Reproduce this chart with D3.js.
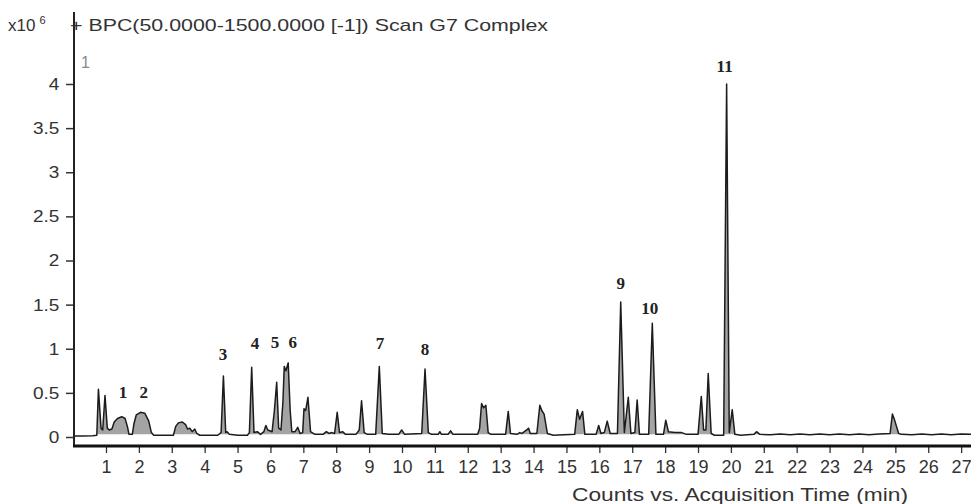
<!DOCTYPE html>
<html><head><meta charset="utf-8">
<script src="https://cdn.jsdelivr.net/npm/d3@7"></script>
<style>body{margin:0;background:#fff}svg{display:block}</style>
</head><body>
<svg id="c" width="971" height="504"></svg>
<script>
// Retention time (min) and BPC intensity (x10^6 counts)
const times = [0,0.3,0.6,0.72,0.77,0.85,0.9,0.97,1.04,1.1,1.18,1.25,1.35,1.48,1.58,1.65,1.7,1.8,1.85,1.92,2.05,2.18,2.3,2.38,2.45,2.8,3.05,3.12,3.2,3.32,3.42,3.48,3.55,3.62,3.7,3.76,3.85,4.4,4.5,4.57,4.64,4.68,4.75,5.0,5.3,5.36,5.43,5.5,5.6,5.7,5.8,5.86,5.92,6.05,6.12,6.19,6.25,6.32,6.38,6.42,6.47,6.54,6.6,6.65,6.75,6.83,6.9,6.98,7.02,7.07,7.14,7.22,7.35,7.6,7.7,7.78,7.87,7.95,8.03,8.1,8.2,8.28,8.6,8.7,8.77,8.85,8.95,9.2,9.31,9.4,9.6,9.9,9.99,10.08,10.6,10.7,10.8,10.9,11.1,11.15,11.2,11.4,11.48,11.55,12.3,12.36,12.42,12.48,12.55,12.62,12.7,13.15,13.23,13.3,13.5,13.58,13.65,13.79,13.85,13.9,14.1,14.19,14.25,14.32,14.42,14.6,15.25,15.33,15.4,15.49,15.56,15.9,15.98,16.05,16.15,16.24,16.33,16.55,16.65,16.76,16.88,16.96,17.08,17.15,17.22,17.5,17.61,17.72,17.95,18.02,18.1,18.3,18.5,18.65,19.0,19.1,19.17,19.24,19.31,19.4,19.5,19.78,19.87,19.95,20.04,20.12,20.3,20.7,20.78,20.88,21.2,21.5,21.8,22.1,22.4,22.7,23.0,23.3,23.6,23.9,24.2,24.5,24.84,24.91,24.97,25.1,25.2,25.5,25.8,26.1,26.4,26.7,27.0,27.3];
const intensity = [0.01,0.01,0.015,0.02,0.54,0.1,0.08,0.47,0.1,0.08,0.09,0.17,0.21,0.23,0.21,0.12,0.03,0.03,0.15,0.25,0.28,0.27,0.18,0.05,0.02,0.02,0.02,0.12,0.16,0.17,0.14,0.09,0.1,0.06,0.09,0.04,0.02,0.02,0.05,0.69,0.05,0.06,0.03,0.02,0.02,0.05,0.79,0.05,0.06,0.03,0.06,0.13,0.08,0.06,0.3,0.62,0.1,0.08,0.4,0.8,0.75,0.84,0.3,0.06,0.06,0.11,0.04,0.05,0.32,0.3,0.45,0.06,0.03,0.03,0.06,0.04,0.05,0.04,0.28,0.05,0.06,0.03,0.03,0.08,0.41,0.05,0.03,0.03,0.8,0.04,0.03,0.03,0.08,0.03,0.04,0.77,0.05,0.03,0.03,0.06,0.03,0.03,0.07,0.03,0.03,0.1,0.38,0.33,0.36,0.05,0.03,0.03,0.29,0.04,0.03,0.05,0.04,0.08,0.1,0.04,0.04,0.36,0.3,0.26,0.04,0.02,0.03,0.31,0.2,0.29,0.03,0.03,0.13,0.04,0.05,0.18,0.04,0.04,1.53,0.05,0.45,0.04,0.05,0.42,0.03,0.03,1.29,0.03,0.03,0.19,0.06,0.05,0.05,0.03,0.03,0.46,0.08,0.08,0.72,0.04,0.02,0.02,4.0,0.05,0.31,0.03,0.02,0.03,0.06,0.03,0.025,0.035,0.025,0.035,0.025,0.035,0.025,0.035,0.025,0.035,0.025,0.035,0.04,0.26,0.2,0.04,0.03,0.025,0.035,0.025,0.035,0.025,0.035,0.03];
const xTicks = d3.range(1, 28);
const yTicks = [0,0.5,1,1.5,2,2.5,3,3.5,4];
const yTickLabels = ["0","0.5","1","1.5","2","2.5","3","3.5","4"];
const peakNames = ["1","2","3","4","5","6","7","8","9","10","11"];
const peakLabelTimes = [1.52,2.15,4.56,5.53,6.14,6.68,9.33,10.7,16.65,17.53,19.81];
const peakLabelLevels = [0.44,0.44,0.87,1.0,1.01,1.01,1.0,0.93,1.68,1.39,4.14];
const titleText = "+ BPC(50.0000-1500.0000 [-1]) Scan G7 Complex";
const xTitle = "Counts vs. Acquisition Time (min)";

const svg = d3.select("#c");
const x = d3.scaleLinear().domain([0, 27.3]).range([73.1, 971]);
const y = d3.scaleLinear().domain([0, 4]).range([437, 84]);
const data = times.map((t, i) => ({t, v: intensity[i]}));
const font = "'Liberation Sans', Arial, sans-serif";
const ink = "#333";

// shaded peak areas
const base = 0.03;
svg.append("path").datum(data)
  .attr("d", d3.area().x(d => x(d.t)).y0(y(base)).y1(d => y(Math.max(d.v, base))))
  .attr("fill", "#a4a4a4");
// trace
svg.append("path").datum(data)
  .attr("d", d3.line().x(d => x(d.t)).y(d => y(d.v)))
  .attr("fill", "none").attr("stroke", "#1c1c1c").attr("stroke-width", 1.5)
  .attr("stroke-linejoin", "round");

// y axis
const ya = svg.append("g").attr("transform", "translate(74,0)")
  .call(d3.axisLeft(y).tickValues(yTicks).tickFormat((d, i) => yTickLabels[i]).tickSize(8).tickPadding(5).tickSizeOuter(0));
ya.select(".domain").remove();
ya.selectAll("line").attr("stroke", "#333").attr("stroke-width", 1.5);
ya.selectAll("text").attr("font-family", font).attr("font-size", 17).attr("fill", ink)
  .attr("transform", "scale(1.12,1)");
svg.append("rect").attr("x", 73).attr("y", 12).attr("width", 2).attr("height", 435).attr("fill", "#222");

// x axis
const xa = svg.append("g").attr("transform", "translate(0,446)")
  .call(d3.axisBottom(x).tickValues(xTicks).tickFormat(d3.format("d")).tickSize(7).tickPadding(7).tickSizeOuter(0));
xa.select(".domain").remove();
xa.selectAll("line").attr("stroke", "#333").attr("stroke-width", 1.3);
xa.selectAll("text").attr("font-family", font).attr("font-size", 18).attr("fill", ink);
svg.append("rect").attr("x", 73).attr("y", 444.5).attr("width", 898).attr("height", 3).attr("fill", "#111");

// titles
const t1 = svg.append("text").attr("x", 8).attr("y", 31).attr("font-family", font).attr("font-size", 17).attr("fill", ink);
t1.append("tspan").text("x10");
t1.append("tspan").attr("dx", 4).attr("dy", -7).attr("font-size", 11).text("6");
svg.append("text").attr("x", 70).attr("y", 31).attr("font-family", font).attr("font-size", 17).attr("fill", ink)
  .attr("textLength", 478).attr("lengthAdjust", "spacingAndGlyphs").text(titleText);
svg.append("text").attr("x", 81).attr("y", 68).attr("font-family", font).attr("font-size", 16).attr("fill", "#888").text("1");
svg.append("text").attr("x", 572).attr("y", 501).attr("font-family", font).attr("font-size", 18).attr("fill", ink)
  .attr("textLength", 336).attr("lengthAdjust", "spacingAndGlyphs").text(xTitle);

// peak labels
svg.append("g").selectAll("text").data(peakNames).join("text")
  .attr("x", (d, i) => x(peakLabelTimes[i])).attr("y", (d, i) => y(peakLabelLevels[i]))
  .attr("text-anchor", "middle").attr("font-family", "'Liberation Serif', 'Times New Roman', serif")
  .attr("font-weight", "bold").attr("font-size", 17).attr("fill", "#222").text(d => d);
</script>
</body></html>
